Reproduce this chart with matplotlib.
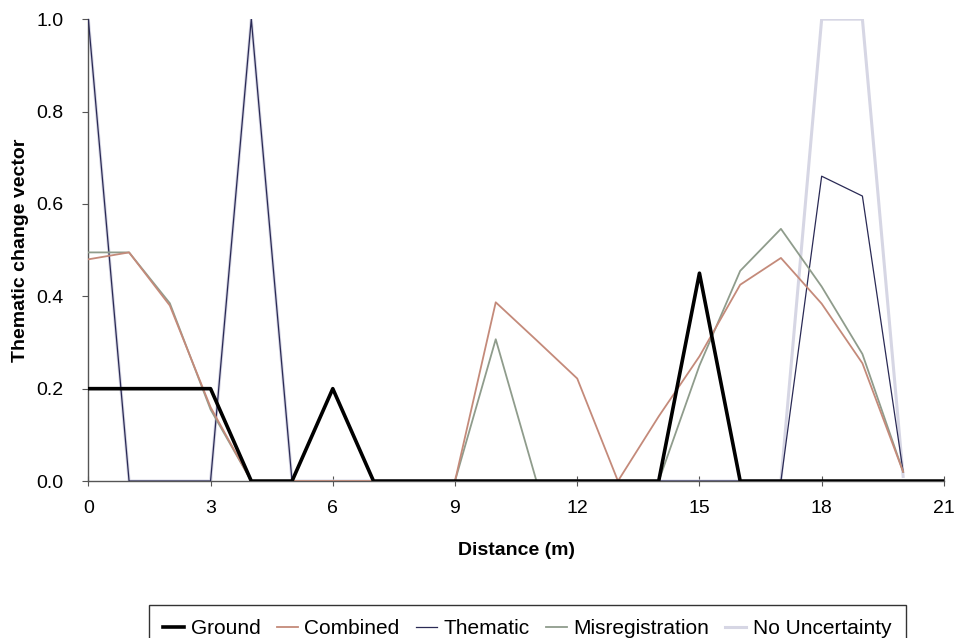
import matplotlib
matplotlib.use("Agg")
import matplotlib.pyplot as plt
from matplotlib.ticker import FormatStrFormatter

plt.rcParams['font.family'] = ['Liberation Sans', 'DejaVu Sans']

distance = list(range(0, 21))
distance_ground = list(range(0, 22))

ground = [0.2, 0.2, 0.2, 0.2, 0, 0, 0.2, 0, 0, 0, 0, 0, 0, 0, 0, 0.45, 0, 0, 0, 0, 0, 0]
combined = [0.48, 0.495, 0.38, 0.16, 0, 0, 0, 0, 0, 0, 0.387, 0.305, 0.222, 0, 0.14, 0.27,
            0.425, 0.483, 0.384, 0.255, 0.02]
thematic = [1.0, 0, 0, 0, 1.0, 0, 0, 0, 0, 0, 0, 0, 0, 0, 0, 0, 0, 0, 0.66, 0.617, 0.02]
misregistration = [0.495, 0.495, 0.385, 0.155, 0, 0, 0, 0, 0, 0, 0.307, 0, 0, 0, 0, 0.25,
                   0.455, 0.546, 0.421, 0.275, 0.02]
no_uncertainty = [1.0, 0, 0, 0, 1.0, 0, 0, 0, 0, 0, 0, 0, 0, 0, 0, 0, 0, 0, 1.0, 1.0, 0.01]

x_ticks = [0, 3, 6, 9, 12, 15, 18, 21]
y_ticks = [0.0, 0.2, 0.4, 0.6, 0.8, 1.0]

fig = plt.figure(figsize=(9.57, 6.38), dpi=100)
ax = fig.add_axes([0.0923, 0.246, 0.894, 0.724])

l_nu, = ax.plot(distance, no_uncertainty, color='#d6d6e4', lw=2.2, zorder=2)
l_th, = ax.plot(distance, thematic, color='#2a2a55', lw=0.9, zorder=3)
l_mi, = ax.plot(distance, misregistration, color='#8f9c8c', lw=1.3, zorder=4)
l_co, = ax.plot(distance, combined, color='#c48a7a', lw=1.3, zorder=5)
l_gr, = ax.plot(distance_ground, ground, color='black', lw=2.6, zorder=6)

ax.set_xlim(0, 21)
ax.set_ylim(0, 1.0)
ax.set_xticks(x_ticks)
ax.set_yticks(y_ticks)
ax.yaxis.set_major_formatter(FormatStrFormatter('%.1f'))
for s in ['top', 'right']:
    ax.spines[s].set_visible(False)
for s in ['left', 'bottom']:
    ax.spines[s].set_color('#555555')
    ax.spines[s].set_linewidth(1.0)
ax.tick_params(axis='y', direction='out', length=4, labelsize=14, color='#555555', pad=14)
ax.tick_params(axis='x', direction='inout', length=7, labelsize=14, color='#555555', pad=10)

ax.set_xlabel('Distance (m)', fontsize=14, fontweight='bold', labelpad=18)
ax.set_ylabel('Thematic change vector', fontsize=14, fontweight='bold', labelpad=5)

leg = fig.legend([l_gr, l_co, l_th, l_mi, l_nu],
                 ['Ground', 'Combined', 'Thematic', 'Misregistration', 'No Uncertainty'],
                 loc='upper center', bbox_to_anchor=(0.551, 0.052), ncol=5,
                 fontsize=15, frameon=True, fancybox=False, handlelength=1.0,
                 handletextpad=0.3, columnspacing=0.8, borderpad=0.7, borderaxespad=0)
leg.get_frame().set_edgecolor('black')
leg.get_frame().set_linewidth(1.0)

fig.savefig('out.png', dpi=100)
